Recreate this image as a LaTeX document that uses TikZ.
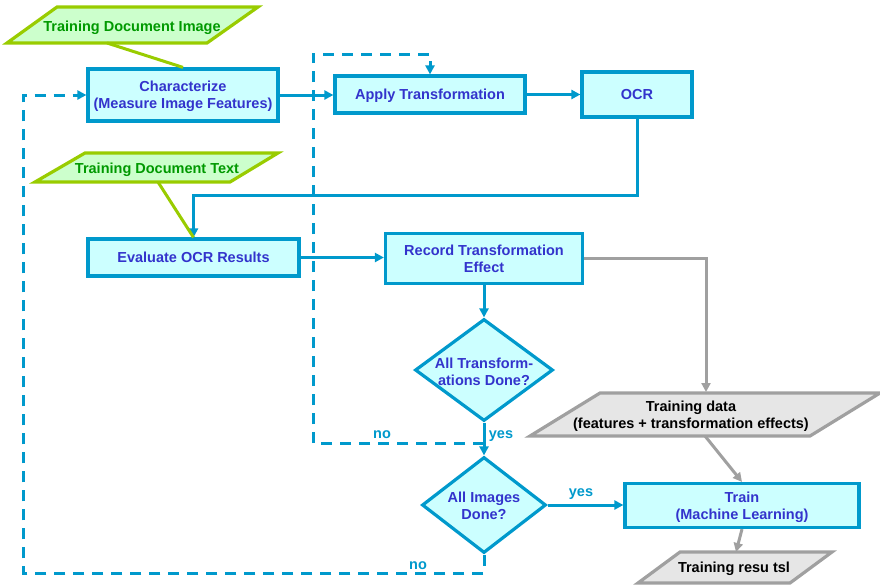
\documentclass[tikz,border=0pt]{standalone}
\usepackage{fontspec}
\setmainfont{Liberation Sans}
\usetikzlibrary{arrows.meta,shapes.geometric}

\definecolor{flowblue}{RGB}{0,153,204}
\definecolor{flowfill}{RGB}{204,255,255}
\definecolor{flowtext}{RGB}{51,51,204}
\definecolor{inpfill}{RGB}{204,255,204}
\definecolor{inpline}{RGB}{153,204,0}
\definecolor{inptext}{RGB}{0,153,0}
\definecolor{datline}{RGB}{160,160,160}
\definecolor{datfill}{RGB}{230,230,230}

\tikzset{
  lbfont/.style={font=\fontsize{14.5}{17}\selectfont\bfseries, text depth=0pt},
  procbox/.style={rectangle, draw=flowblue, fill=flowfill, line width=3.2pt,
    text=flowtext, lbfont, align=center, inner sep=0pt},
  decision/.style={diamond, draw=flowblue, fill=flowfill, line width=3.2pt,
    inner sep=0pt},
  proctext/.style={text=flowtext, lbfont, align=center, inner sep=0pt},
  flow/.style={draw=flowblue, line width=3pt, -{Triangle[length=9pt,width=9pt]}},
  loopback/.style={flow, dash pattern=on 11pt off 8pt},
  branch/.style={text=flowblue, lbfont, inner sep=0pt},
  inputshape/.style={draw=inpline, fill=inpfill, line width=3.2pt},
  inputtext/.style={text=inptext, lbfont, inner sep=0pt},
  feed/.style={draw=inpline, line width=3pt},
  datashape/.style={draw=datline, fill=datfill, line width=3.2pt},
  datatext/.style={text=black, lbfont, align=center, inner sep=0pt},
  dataflow/.style={draw=datline, line width=3pt, -{Triangle[length=9pt,width=9pt]}},
}

\begin{document}
\begin{tikzpicture}[x=1pt,y=-1pt]
\useasboundingbox (0,0) rectangle (880,584);

% input documents (parallelograms)
\filldraw[inputshape] (57,7) -- (258,7) -- (207,43) -- (7,43) -- cycle;
\node[inputtext] (tdi) at (132,26) {Training Document Image};
\coordinate (tdi-s) at (107,43);

\filldraw[inputshape] (85,153) -- (278,153) -- (230,182) -- (35,182) -- cycle;
\node[inputtext] (tdt) at (157,168) {Training Document Text};
\coordinate (tdt-s) at (158,182);

% process boxes
\node[procbox, minimum width=190pt, minimum height=52pt] (char) at (183,95)
  {Characterize\\(Measure Image Features)};
\node[procbox, minimum width=190pt, minimum height=37pt] (apply) at (430,94.5)
  {Apply Transformation};
\node[procbox, minimum width=110pt, minimum height=45pt] (ocr) at (637,94.5)
  {OCR};
\node[procbox, minimum width=211pt, minimum height=37pt] (eval) at (193.5,257.5)
  {Evaluate OCR Results};
\node[procbox, minimum width=197pt, minimum height=50pt] (record) at (484,258.5)
  {Record Transformation\\Effect};
\node[procbox, minimum width=234pt, minimum height=44pt] (train) at (742,505.5)
  {Train\\(Machine Learning)};

% decisions
\node[decision, minimum width=138pt, minimum height=102pt] (d1) at (484,370) {};
\node[proctext] (d1t) at (484,372) {All Transform-\\ations Done?};
\node[decision, minimum width=124pt, minimum height=96pt] (d2) at (484,505) {};
\node[proctext] (d2t) at (484,506) {All Images\\Done?};

% data outputs (parallelograms)
\filldraw[datashape] (600,393) -- (880,393) -- (810,436) -- (530,436) -- cycle;
\node[datatext] (tdata) at (691,415) {Training data\\(features + transformation effects)};
\coordinate (tdata-n) at (706,392);
\coordinate (tdata-s) at (705,436);

\filldraw[datashape] (680,552) -- (832,552) -- (790,583) -- (638,583) -- cycle;
\node[datatext] (tres) at (734,567) {Training resu tsl};
\coordinate (tres-n) at (736,552);

% helper points for the routed connectors
\coordinate (ocrturn) at (637,195);
\coordinate (nojoin) at (484,443);
\coordinate (noleft) at (313,443);
\coordinate (notop) at (313,54);
\coordinate (imgbot) at (484,573);
\coordinate (imgleft) at (23,573);

% main flow
\draw[flow] (char.east) -- (apply.west |- char.east);
\draw[flow] (apply.east) -- (ocr.west);
\draw[flow] (ocr.south) -- (ocrturn) -| (eval.north);
\draw[flow] (eval.east) -- (record.west |- eval.east);
\draw[flow] (record.south) -- (d1.north);
\draw[flow] (d1.south) -- (d2.north);
\draw[flow] (d2.east) -- (train.west |- d2.east);

% loop-backs
\draw[loopback] (nojoin) -- (noleft) -- (notop) -| (apply.north);
\draw[loopback] (d2.south) -- (imgbot) -- (imgleft) |- (char.west);

% branch labels
\node[branch] (yes1) at (501,435) {yes};
\node[branch] (no1) at (382,435) {no};
\node[branch] (yes2) at (581,493) {yes};
\node[branch] (no2) at (418,566) {no};

% document feeds
\draw[feed] (tdi-s) -- (char.north);
\draw[feed] (tdt-s) -- (eval.north);

% training data flow
\draw[dataflow] (record.east) -| (tdata-n);
\draw[dataflow] (tdata-s) -- (train.north);
\draw[dataflow] (train.south) -- (tres-n);

\end{tikzpicture}
\end{document}
